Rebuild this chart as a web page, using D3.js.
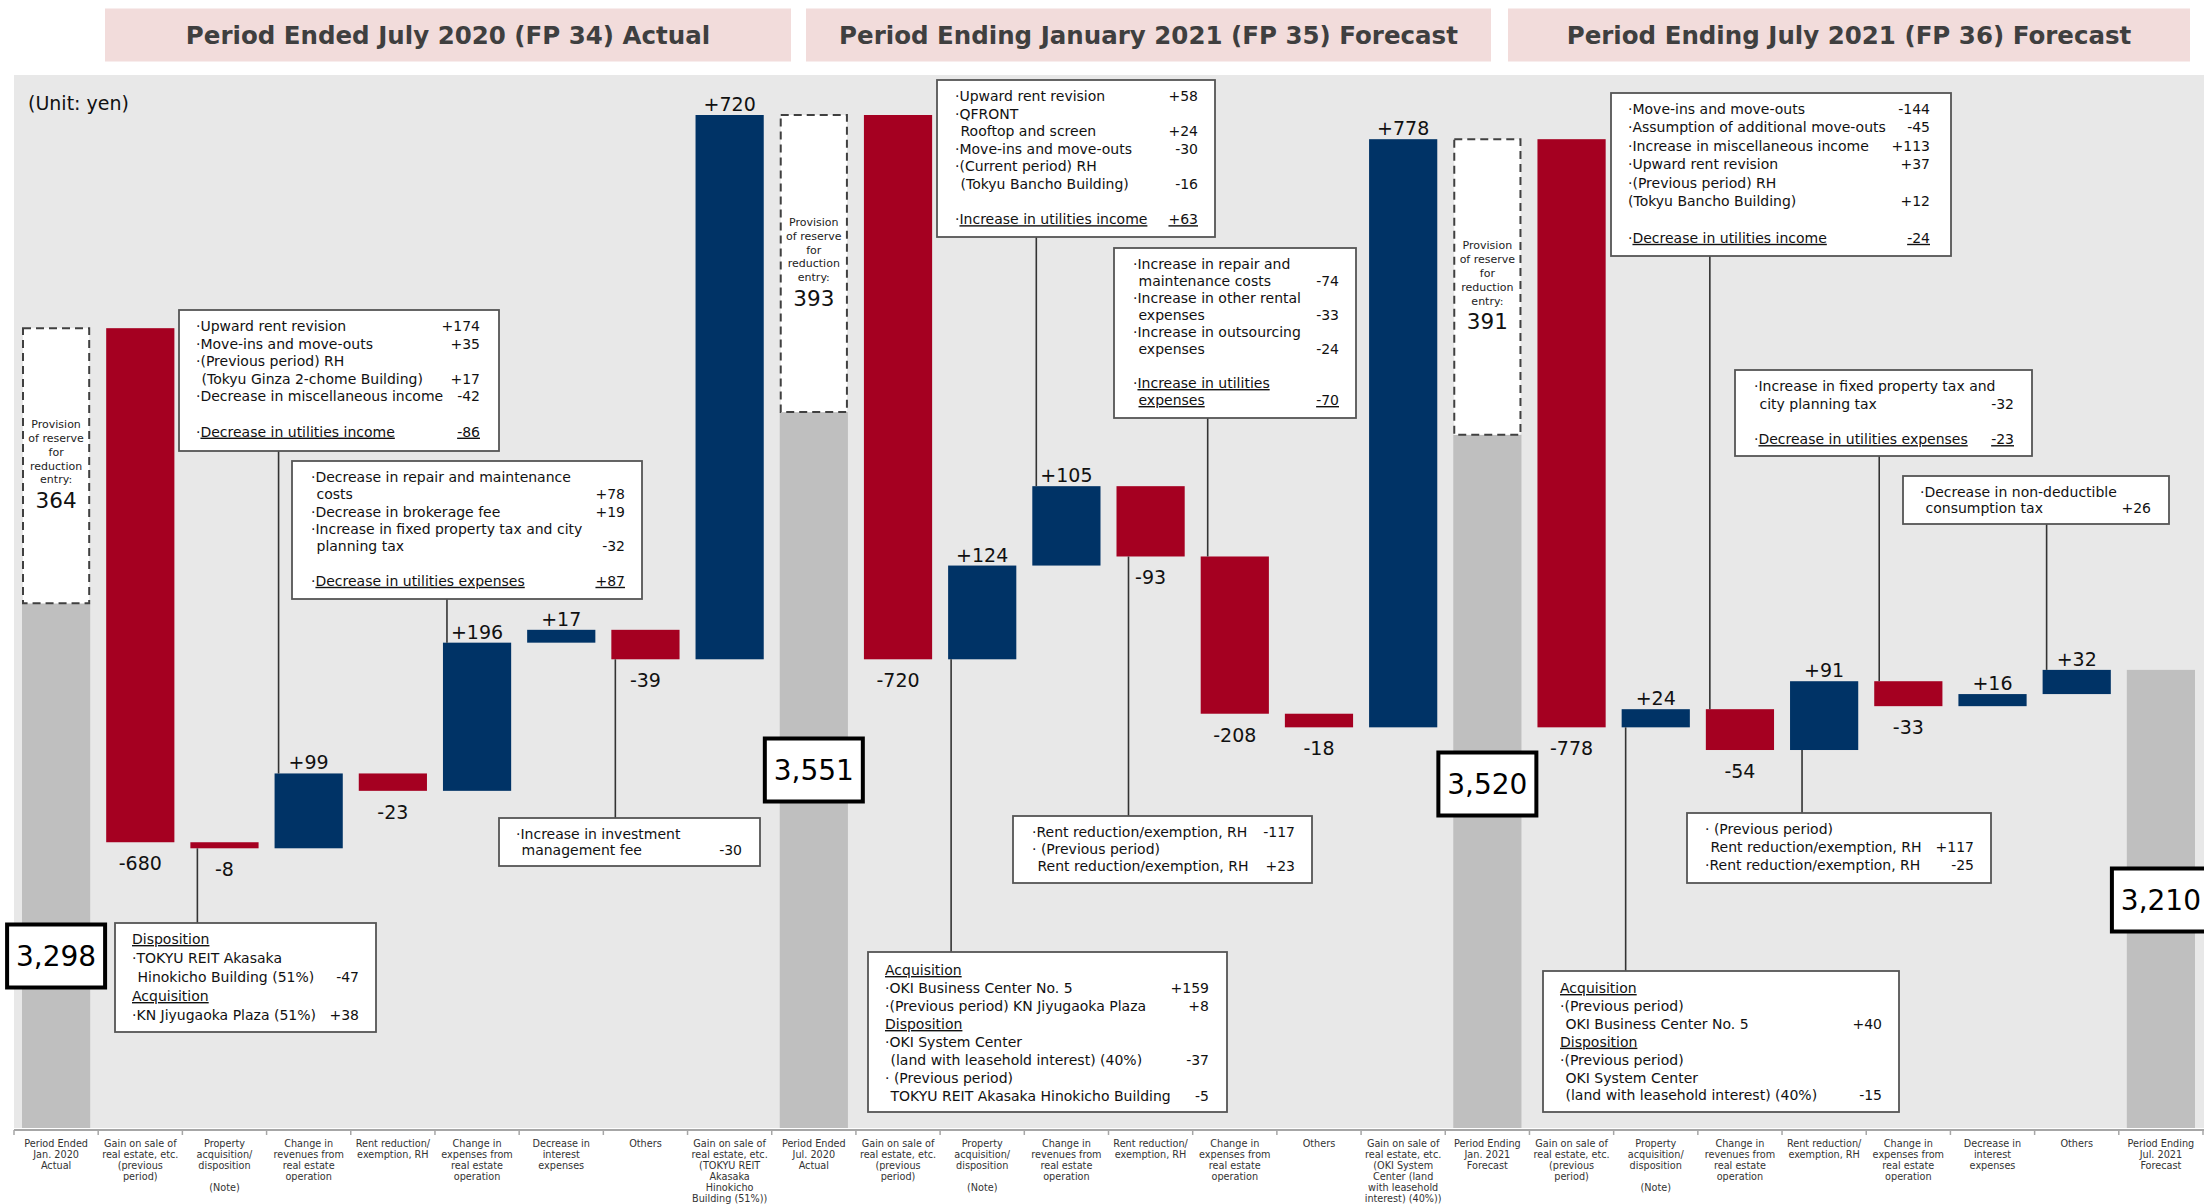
<!DOCTYPE html>
<html><head><meta charset="utf-8">
<script src="https://cdn.jsdelivr.net/npm/d3@7/dist/d3.min.js"></script>
<style>
html,body{margin:0;padding:0;background:#fff;overflow:hidden;}
svg text{font-family:"DejaVu Sans",Verdana,sans-serif;white-space:pre;}
</style></head><body>
<svg id="c" width="2204" height="1204"></svg>
<script>
// ---------------- DATA ----------------
const periodTitles = [
  "Period Ended July 2020 (FP 34) Actual",
  "Period Ending January 2021 (FP 35) Forecast",
  "Period Ending July 2021 (FP 36) Forecast"
];
const categories = [
 "Period Ended|Jan. 2020|Actual",
 "Gain on sale of|real estate, etc.|(previous|period)",
 "Property|acquisition/|disposition||(Note)",
 "Change in|revenues from|real estate|operation",
 "Rent reduction/|exemption, RH",
 "Change in|expenses from|real estate|operation",
 "Decrease in|interest|expenses",
 "Others",
 "Gain on sale of|real estate, etc.|(TOKYU REIT|Akasaka|Hinokicho|Building (51%))",
 "Period Ended|Jul. 2020|Actual",
 "Gain on sale of|real estate, etc.|(previous|period)",
 "Property|acquisition/|disposition||(Note)",
 "Change in|revenues from|real estate|operation",
 "Rent reduction/|exemption, RH",
 "Change in|expenses from|real estate|operation",
 "Others",
 "Gain on sale of|real estate, etc.|(OKI System|Center (land|with leasehold|interest) (40%))",
 "Period Ending|Jan. 2021|Forecast",
 "Gain on sale of|real estate, etc.|(previous|period)",
 "Property|acquisition/|disposition||(Note)",
 "Change in|revenues from|real estate|operation",
 "Rent reduction/|exemption, RH",
 "Change in|expenses from|real estate|operation",
 "Decrease in|interest|expenses",
 "Others",
 "Period Ending|Jul. 2021|Forecast"
];
// null = period total bar
const deltas = [null,-680,-8,99,-23,196,17,-39,720,null,-720,124,105,-93,-208,-18,778,null,-778,24,-54,91,-33,16,32,null];
const startValue = 3298;
const totalLabels = ["3,298","3,551","3,520","3,210"];
const reserveValues = [364,393,391,null];
const reserveText = ["Provision","of reserve","for","reduction","entry:"];
const unitText = "(Unit: yen)";

// annotation texts: [text, value, style]  style u = underlined, h = heading
const noteA = [["·Upward rent revision","+174"],["·Move-ins and move-outs","+35"],["·(Previous period) RH",""],[" (Tokyu Ginza 2-chome Building)","+17"],["·Decrease in miscellaneous income","-42"],["",""],["·Decrease in utilities income","-86","u"]];
const noteB = [["·Decrease in repair and maintenance",""],[" costs","+78"],["·Decrease in brokerage fee","+19"],["·Increase in fixed property tax and city",""],[" planning tax","-32"],["",""],["·Decrease in utilities expenses","+87","u"]];
const noteC = [["·Increase in investment",""],[" management fee","-30"]];
const noteD = [["Disposition","","h"],["·TOKYU REIT Akasaka",""],[" Hinokicho Building (51%)","-47"],["Acquisition","","h"],["·KN Jiyugaoka Plaza (51%)","+38"]];
const noteE = [["·Upward rent revision","+58"],["·QFRONT",""],[" Rooftop and screen","+24"],["·Move-ins and move-outs","-30"],["·(Current period) RH",""],[" (Tokyu Bancho Building)","-16"],["",""],["·Increase in utilities income","+63","u"]];
const noteF = [["·Increase in repair and",""],[" maintenance costs","-74"],["·Increase in other rental",""],[" expenses","-33"],["·Increase in outsourcing",""],[" expenses","-24"],["",""],["·Increase in utilities","","u"],[" expenses","-70","u"]];
const noteG = [["·Rent reduction/exemption, RH","-117"],["· (Previous period)",""],[" Rent reduction/exemption, RH","+23"]];
const noteH = [["Acquisition","","h"],["·OKI Business Center No. 5","+159"],["·(Previous period) KN Jiyugaoka Plaza","+8"],["Disposition","","h"],["·OKI System Center",""],[" (land with leasehold interest) (40%)","-37"],["· (Previous period)",""],[" TOKYU REIT Akasaka Hinokicho Building","-5"]];
const noteI = [["·Move-ins and move-outs","-144"],["·Assumption of additional move-outs","-45"],["·Increase in miscellaneous income","+113"],["·Upward rent revision","+37"],["·(Previous period) RH",""],["(Tokyu Bancho Building)","+12"],["",""],["·Decrease in utilities income","-24","u"]];
const noteJ = [["·Increase in fixed property tax and",""],[" city planning tax","-32"],["",""],["·Decrease in utilities expenses","-23","u"]];
const noteK = [["·Decrease in non-deductible",""],[" consumption tax","+26"]];
const noteL = [["· (Previous period)",""],[" Rent reduction/exemption, RH","+117"],["·Rent reduction/exemption, RH","-25"]];
const noteM = [["Acquisition","","h"],["·(Previous period)",""],[" OKI Business Center No. 5","+40"],["Disposition","","h"],["·(Previous period)",""],[" OKI System Center",""],[" (land with leasehold interest) (40%)","-15"]];

// ---------------- LAYOUT ----------------
const C = {red:"#a50021", navy:"#003366", gray:"#bfbfbf", bg:"#e8e8e8", pink:"#f2dcdb"};
const noteLayout = [
 {lines:noteA, bar:3,  off:4,  x:179, y:310, w:320, h:141, tx:196, vx:480, fb:331, lh:17.6},
 {lines:noteB, bar:5,  off:4,  x:292, y:461, w:350, h:138, tx:311, vx:625, fb:482, lh:17.3},
 {lines:noteC, bar:7,  off:4,  x:499, y:818, w:261, h:48,  tx:516, vx:742, fb:839, lh:15.5},
 {lines:noteD, bar:2,  off:7,  x:115, y:923, w:261, h:109, tx:132, vx:359, fb:944, lh:19},
 {lines:noteE, bar:12, off:4,  x:937, y:80,  w:278, h:157, tx:955, vx:1198, fb:101, lh:17.6},
 {lines:noteF, bar:14, off:7,  x:1114,y:248, w:242, h:170, tx:1133,vx:1339, fb:269, lh:17},
 {lines:noteG, bar:13, off:12, x:1013,y:816, w:299, h:67,  tx:1032,vx:1295, fb:837, lh:17},
 {lines:noteH, bar:11, off:3,  x:868, y:952, w:359, h:160, tx:885, vx:1209, fb:975, lh:18},
 {lines:noteI, bar:20, off:4,  x:1611,y:93,  w:340, h:163, tx:1628,vx:1930, fb:114, lh:18.4},
 {lines:noteJ, bar:22, off:5,  x:1735,y:370, w:297, h:86,  tx:1754,vx:2014, fb:391, lh:17.7},
 {lines:noteK, bar:24, off:4,  x:1903,y:476, w:266, h:48,  tx:1920,vx:2151, fb:497, lh:15.6},
 {lines:noteL, bar:21, off:12, x:1687,y:813, w:304, h:70,  tx:1705,vx:1974, fb:834, lh:18},
 {lines:noteM, bar:19, off:4,  x:1543,y:971, w:356, h:141, tx:1560,vx:1882, fb:993, lh:17.9}
];
const totalBoxCY = [956, 770, 784, 900];
const titleBoxes = [[105,791],[806,1491],[1508,2190]];

// ---------------- SCALES ----------------
const svg = d3.select("#c");
const x = d3.scaleBand().domain(d3.range(categories.length)).range([14,2203]).paddingInner(0.19).paddingOuter(0.095);
const step = x.step(), bw = x.bandwidth();
const y = d3.scaleLinear().domain([2240,3580]).range([1128,115]);
const fmt = v => (v>0?"+":"") + v;

// waterfall
let run = startValue, ti = 0;
const bars = deltas.map((d,i)=>{
  if(d===null){ const b={i,type:"total",top:run,reserve:reserveValues[ti],label:totalLabels[ti],k:ti}; ti++; return b; }
  const b={i,type:d>=0?"up":"down",v0:run,v1:run+d,d}; run+=d; return b;
});

// ---------------- DRAW ----------------
// titles
titleBoxes.forEach((b,k)=>{
  svg.append("rect").attr("x",b[0]).attr("y",8.5).attr("width",b[1]-b[0]).attr("height",53).attr("fill",C.pink);
  svg.append("text").attr("x",(b[0]+b[1])/2).attr("y",43.5).attr("text-anchor","middle")
    .attr("font-size",24.5).attr("font-weight","bold").attr("fill","#3f3f3f").text(periodTitles[k]);
});
// plot background
svg.append("rect").attr("x",14).attr("y",75).attr("width",2204-14).attr("height",y(2240)-75).attr("fill",C.bg);
svg.append("text").attr("x",28).attr("y",110).attr("font-size",19).attr("fill","#111").text(unitText);

// total bars
const totals = bars.filter(b=>b.type==="total");
totals.forEach(b=>{
  const gTop = b.reserve ? b.top - b.reserve : b.top;
  svg.append("rect").attr("x",x(b.i)).attr("width",bw).attr("y",y(gTop)).attr("height",y(2240)-y(gTop)).attr("fill",C.gray);
  if(b.reserve){
    const y0=y(b.top), y1=y(gTop);
    svg.append("rect").attr("x",x(b.i)+1).attr("width",bw-2).attr("y",y0).attr("height",y1-y0)
      .attr("fill","#fff").attr("stroke","#404040").attr("stroke-width",2).attr("stroke-dasharray","8,5");
    const cx=x(b.i)+bw/2, mid=(y0+y1)/2;
    reserveText.forEach((t,j)=>{
      svg.append("text").attr("x",cx).attr("y",mid-41.5+j*13.8+4).attr("text-anchor","middle")
        .attr("font-size",11).attr("fill","#222").text(t);
    });
    svg.append("text").attr("x",cx).attr("y",mid+35+7.5).attr("text-anchor","middle")
      .attr("font-size",21.5).attr("fill","#111").text(String(b.reserve));
  }
});

// delta bars
const deltasB = bars.filter(b=>b.type!=="total");
svg.selectAll("rect.d").data(deltasB).join("rect").attr("class","d")
  .attr("x",b=>x(b.i)).attr("width",bw)
  .attr("y",b=>y(Math.max(b.v0,b.v1))).attr("height",b=>Math.abs(y(b.v0)-y(b.v1)))
  .attr("fill",b=>b.d>=0?C.navy:C.red);
svg.selectAll("text.v").data(deltasB).join("text").attr("class","v")
  .attr("x",b=>x(b.i)+bw/2).attr("text-anchor","middle").attr("font-size",19).attr("fill","#111")
  .attr("y",b=>b.d>=0 ? y(b.v1)-4 : y(b.v1)+28).text(b=>fmt(b.d));

// annotations
noteLayout.forEach(n=>{
  const b = bars[n.bar];
  const lx = x(n.bar)+n.off;
  const barTop = y(Math.max(b.v0,b.v1)), barBot = y(Math.min(b.v0,b.v1));
  const above = n.y+n.h < barTop;
  svg.append("line").attr("x1",lx).attr("x2",lx)
    .attr("y1",above? n.y+n.h : barBot).attr("y2",above? barTop : n.y)
    .attr("stroke","#333").attr("stroke-width",1.6);
  svg.append("rect").attr("x",n.x).attr("y",n.y).attr("width",n.w).attr("height",n.h)
    .attr("fill","#fff").attr("stroke","#555").attr("stroke-width",1.8);
  n.lines.forEach((L,j)=>{
    let [t,v,s] = L; const by = n.fb + j*n.lh;
    if(t){
      let tx = n.tx;
      if(t.startsWith(" ")){ t=t.slice(1); tx+=5.5; }
      const te = svg.append("text").attr("x",tx).attr("y",by).attr("font-size",14).attr("fill","#111");
      if(s==="u" && t.startsWith("·")){
        te.append("tspan").text("·");
        te.append("tspan").attr("text-decoration","underline").text(t.slice(1));
      } else if(s==="u"||s==="h"){
        te.append("tspan").attr("text-decoration","underline").text(t);
      } else te.text(t);
    }
    if(v){
      const ve = svg.append("text").attr("x",n.vx).attr("y",by).attr("text-anchor","end").attr("font-size",14).attr("fill","#111");
      if(s==="u") ve.append("tspan").attr("text-decoration","underline").text(v); else ve.text(v);
    }
  });
});

// total label boxes
totals.forEach(b=>{
  const cx = x(b.i)+bw/2, cy = totalBoxCY[b.k];
  svg.append("rect").attr("x",cx-49).attr("y",cy-31.5).attr("width",98).attr("height",63)
    .attr("fill","#fff").attr("stroke","#000").attr("stroke-width",4);
  svg.append("text").attr("x",cx).attr("y",cy+10).attr("text-anchor","middle").attr("font-size",28).attr("fill","#000").text(b.label);
});

// axis
const ay = 1130;
svg.append("line").attr("x1",14).attr("x2",2204).attr("y1",ay).attr("y2",ay).attr("stroke","#a6a6a6").attr("stroke-width",2);
d3.range(categories.length+1).forEach(k=>{
  const tx = 14 + k*step;
  svg.append("line").attr("x1",tx).attr("x2",tx).attr("y1",ay).attr("y2",ay+5).attr("stroke","#a6a6a6").attr("stroke-width",1.5);
});
categories.forEach((c,i)=>{
  const te = svg.append("text").attr("text-anchor","middle").attr("font-size",9.7).attr("fill","#333");
  c.split("|").forEach((ln,j)=>{
    te.append("tspan").attr("x",x(i)+bw/2).attr("y",1146.5+j*11).text(ln);
  });
});
</script>
</body></html>
